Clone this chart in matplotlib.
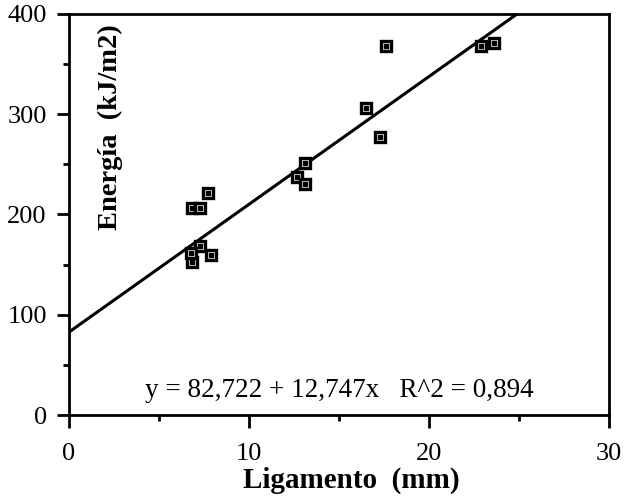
import matplotlib
matplotlib.use('Agg')
import matplotlib.pyplot as plt
import numpy as np

# datos
ligamento = [6.85, 7.3, 7.7, 7.3, 7.9, 6.85, 6.8, 12.65, 13.1, 13.1, 16.5, 17.3, 17.6, 22.9, 23.6]
energia = [206, 206, 221, 169, 160, 153, 162, 237, 251, 230, 306, 277, 368, 368, 371]
a, b = 82.722, 12.747
texto_eq = 'y = 82,722 + 12,747x   R^2 = 0,894'

plt.rcParams['font.family'] = ['Liberation Serif', 'DejaVu Serif']

fig = plt.figure(figsize=(6.24, 5.0), dpi=100)
ax = fig.add_axes([0.1106, 0.17, 0.8654, 0.802])

xl = np.array([0, 30])
ax.plot(xl, a + b * xl, color='black', lw=2.2, zorder=2)
ax.plot(ligamento, energia, linestyle='none', marker='s', ms=7.5, mfc='white',
        mec='black', mew=2.4, zorder=3)
ax.plot(ligamento, energia, linestyle='none', marker='s', ms=2.2, mfc='black',
        mec='black', zorder=4)

ax.set_xlim(0, 30)
ax.set_ylim(0, 400)
ax.set_xticks([0, 10, 20, 30])
ax.set_xticks([5, 15, 25], minor=True)
ax.set_yticks([0, 100, 200, 300, 400])
ax.set_yticks([50, 150, 250, 350], minor=True)
ax.tick_params(which='major', direction='out', length=9, width=2, labelsize=19)
ax.tick_params(axis='x', which='major', pad=11)
ax.tick_params(axis='y', which='major', pad=7)
ax.tick_params(which='minor', direction='out', length=4, width=2)
for s in ax.spines.values():
    s.set_linewidth(2)

ax.text(0.522, -0.182, 'Ligamento  (mm)', transform=ax.transAxes, fontsize=21,
        fontweight='bold', ha='center', va='baseline')
ax.text(0.076, 0.718, 'Energía  (kJ/m2)', transform=ax.transAxes, rotation=90,
        fontsize=20.5, fontweight='bold', ha='center', va='center')
ax.text(0.5, 0.06, texto_eq, transform=ax.transAxes, fontsize=19.5,
        ha='center', va='center')

plt.savefig('out.png', dpi=100)
